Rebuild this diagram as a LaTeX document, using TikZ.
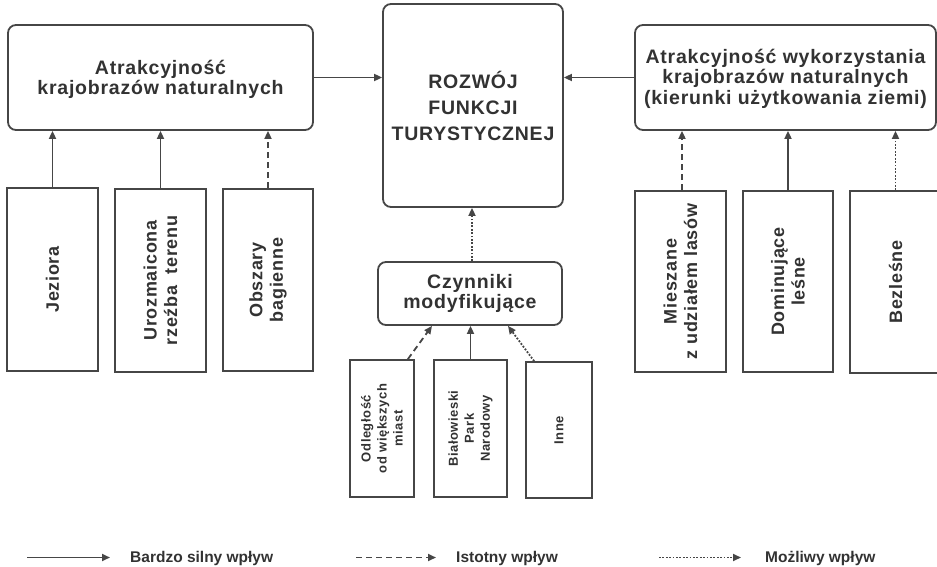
\documentclass[tikz,border=0pt]{standalone}
\usepackage{fontspec}
\setmainfont{Liberation Sans}
\newfontfamily\hfont{Liberation Sans}[LetterSpace=4]
\newfontfamily\vfont{Liberation Sans}[LetterSpace=4]
\newfontfamily\lfont{Liberation Sans}
\usetikzlibrary{arrows.meta,calc}
\definecolor{txt}{RGB}{50,50,50}
\definecolor{lc}{RGB}{70,70,70}
\tikzset{
  box/.style={draw=lc, line width=1.8pt, inner sep=0pt, align=center, text=txt},
  rbox/.style={box, rounded corners=8pt},
  htext/.style={font=\hfont\bfseries\fontsize{19.5}{20.5}\selectfont},
  ctext/.style={font=\hfont\bfseries\fontsize{19.5}{26}\selectfont},
  vtext/.style={font=\vfont\bfseries\fontsize{18}{20.5}\selectfont, rotate=90},
  stext/.style={font=\vfont\bfseries\fontsize{13}{16}\selectfont, rotate=90},
  arr/.style={draw=lc, line width=1.8pt, -{Triangle[length=8pt,width=7pt]}},
  strong/.style={arr},
  medium/.style={arr, dash pattern=on 6pt off 4pt},
  weak/.style={arr, dash pattern=on 1.8pt off 1.6pt},
  legtext/.style={font=\lfont\bfseries\fontsize{15.5}{18}\selectfont, text=txt, anchor=base west, inner sep=0pt}
}
\begin{document}
\begin{tikzpicture}[x=1pt,y=-1pt]
\useasboundingbox (0,0) rectangle (937,567);
% top boxes
\node[rbox, minimum width=305pt, minimum height=105pt] (TL) at (160.5,77.5) {};
\node[htext, text=txt, align=center] at ([yshift=-2pt]TL.center) {Atrakcyjność\\krajobrazów naturalnych};
\node[rbox, minimum width=180pt, minimum height=203pt] (C) at (473,105.5) {};
\node[ctext, text=txt, align=center] at (C.center) {ROZWÓJ\\FUNKCJI\\TURYSTYCZNEJ};
\node[rbox, minimum width=301pt, minimum height=105pt] (TR) at (785.5,77.5) {};
\node[htext, text=txt, align=center] at ([yshift=-1pt]TR.center) {Atrakcyjność wykorzystania\\krajobrazów naturalnych\\(kierunki użytkowania ziemi)};
% left bottom boxes
\node[box, minimum width=91pt, minimum height=183pt] (L1) at (52.5,279.5) {};
\node[vtext, text=txt] at (L1.center) {Jeziora};
\node[box, minimum width=91pt, minimum height=183pt] (L2) at (160.5,280.5) {};
\node[vtext, text=txt, align=center] at (L2.center) {Urozmaicona\\rzeźba\ \ terenu};
\node[box, minimum width=90pt, minimum height=182pt] (L3) at (268,280) {};
\node[vtext, text=txt, align=center] at (L3.center) {Obszary\\bagienne};
% right bottom boxes
\node[box, minimum width=91pt, minimum height=181pt] (R1) at (680.5,281.5) {};
\node[vtext, text=txt, align=center] at (R1.center) {Mieszane\\z udziałem lasów};
\node[box, minimum width=90pt, minimum height=181pt] (R2) at (788,281.5) {};
\node[vtext, text=txt, align=center] at (R2.center) {Dominujące\\leśne};
\node[box, minimum width=91pt, minimum height=182pt] (R3) at (895.5,282) {};
\node[vtext, text=txt, align=center] at (R3.center) {Bezleśne};
% modifying factors
\node[rbox, minimum width=184pt, minimum height=63pt] (CZ) at (470,293.5) {};
\node[htext, text=txt, align=center] at (CZ.center) {Czynniki\\modyfikujące};
\node[box, minimum width=64pt, minimum height=137pt] (B1) at (382,428.5) {};
\node[stext, text=txt, align=center] at (B1.center) {Odległość\\od większych\\miast};
\node[box, minimum width=73pt, minimum height=137pt] (B2) at (470.5,428.5) {};
\node[stext, text=txt, align=center] at (B2.center) {Białowieski\\Park\\Narodowy};
\node[box, minimum width=66pt, minimum height=136pt] (B3) at (559,430) {};
\node[stext, text=txt, align=center] at (B3.center) {Inne};
% connectors
\draw[strong] (TL.east) -- (TL.east -| C.west);
\draw[strong] (TR.west) -- (TR.west -| C.east);
\draw[strong] (L1.north) -- (L1.north |- TL.south);
\draw[strong] (L2.north) -- (L2.north |- TL.south);
\draw[medium] (L3.north) -- (L3.north |- TL.south);
\draw[medium] ([xshift=1.5pt]R1.north) -- ([xshift=1.5pt]R1.north |- TR.south);
\draw[strong] (R2.north) -- (R2.north |- TR.south);
\draw[weak] (R3.north) -- (R3.north |- TR.south);
\draw[weak] ([xshift=2pt]CZ.north) -- ([xshift=2pt]CZ.north |- C.south);
\draw[medium] ([xshift=-7pt]B1.north east) -- ([xshift=-38pt]CZ.south);
\draw[strong] (B2.north) -- (B2.north |- CZ.south);
\draw[weak] ([xshift=9pt]B3.north west) -- ([xshift=38pt]CZ.south);
% legend
\coordinate (l1a) at (27,557.5); \coordinate (l1b) at (110,557.5);
\coordinate (l2a) at (356,557.5); \coordinate (l2b) at (436,557.5);
\coordinate (l3a) at (659,557.5); \coordinate (l3b) at (741,557.5);
\draw[strong] (l1a) -- (l1b);
\draw[medium] (l2a) -- (l2b);
\draw[weak] (l3a) -- (l3b);
\node[legtext] (lt1) at (130,562.5) {Bardzo silny wpływ};
\node[legtext] (lt2) at (456,562.5) {Istotny wpływ};
\node[legtext] (lt3) at (765,562.5) {Możliwy wpływ};
\end{tikzpicture}
\end{document}
